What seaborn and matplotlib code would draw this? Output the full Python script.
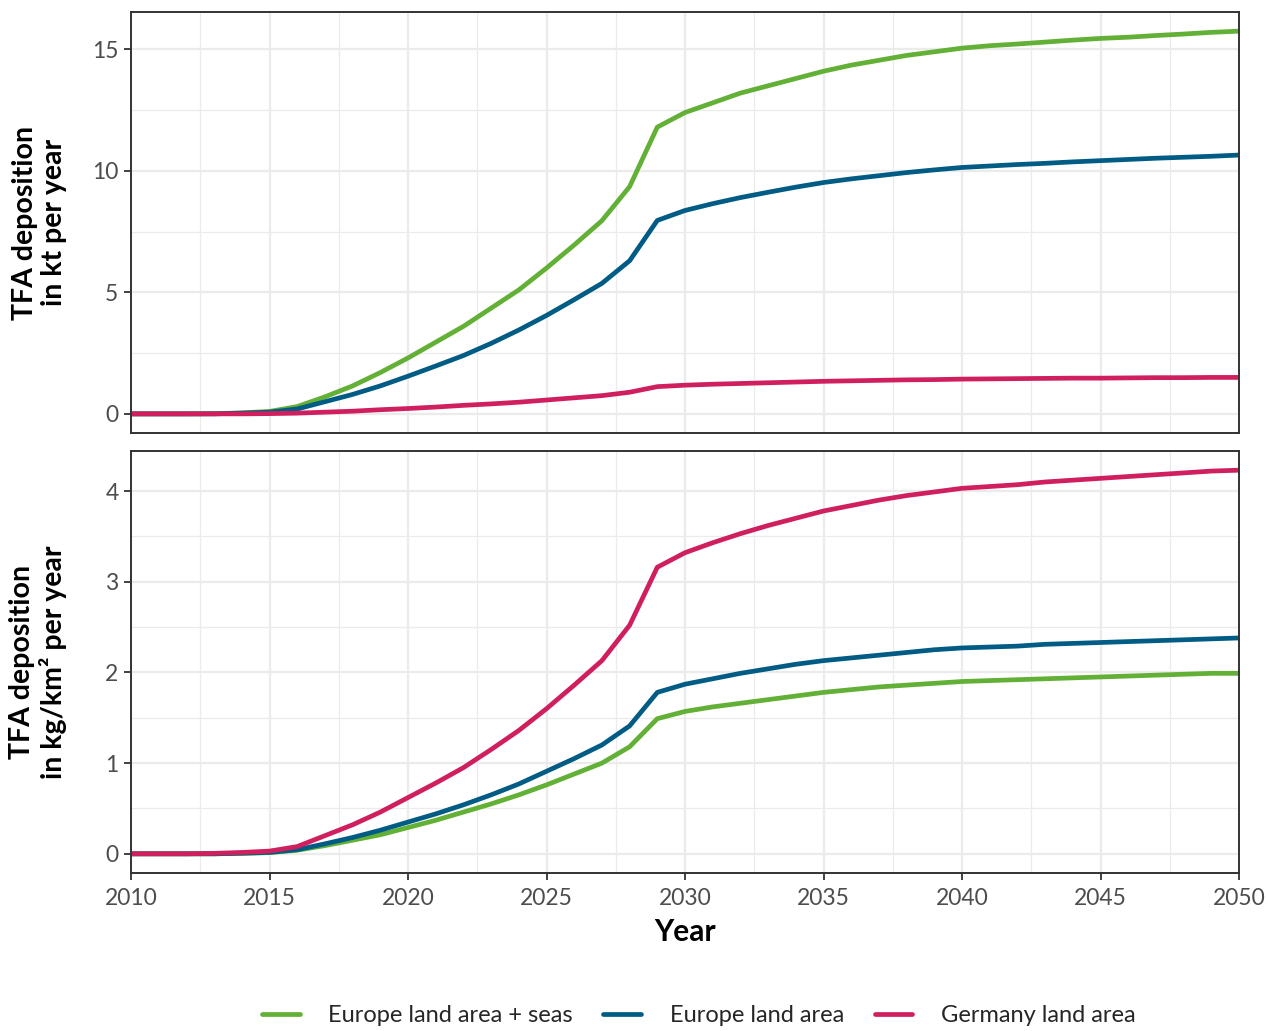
import numpy as np
import pandas as pd
import matplotlib
matplotlib.use("Agg")
import matplotlib.pyplot as plt
import seaborn as sns
from matplotlib.ticker import MultipleLocator

years = list(range(2010, 2051))
series_names = ["Europe land area + seas", "Europe land area", "Germany land area"]
colors = ["#62b035", "#005c84", "#d01f5e"]

kt_green = [0, 0, 0, 0.01, 0.04, 0.1, 0.3, 0.7, 1.15, 1.7, 2.3, 2.95, 3.6, 4.35, 5.1, 6.0, 6.95, 7.95, 9.35, 11.8,
            12.4, 12.8, 13.2, 13.5, 13.8, 14.1, 14.35, 14.55, 14.75, 14.9, 15.05, 15.15, 15.22, 15.3, 15.38, 15.45,
            15.5, 15.57, 15.63, 15.7, 15.75]
kt_blue = [0, 0, 0, 0, 0.03, 0.07, 0.2, 0.5, 0.8, 1.15, 1.55, 1.97, 2.4, 2.9, 3.45, 4.05, 4.7, 5.37, 6.3, 7.96,
           8.37, 8.65, 8.9, 9.12, 9.33, 9.52, 9.67, 9.8, 9.93, 10.04, 10.14, 10.2, 10.26, 10.31, 10.37, 10.42,
           10.47, 10.52, 10.56, 10.6, 10.65]
kt_pink = [0, 0, 0, 0, 0, 0.01, 0.03, 0.07, 0.11, 0.17, 0.22, 0.28, 0.35, 0.41, 0.48, 0.57, 0.66, 0.75, 0.89, 1.12,
           1.18, 1.22, 1.25, 1.28, 1.31, 1.34, 1.36, 1.38, 1.4, 1.41, 1.43, 1.44, 1.45, 1.46, 1.47, 1.47,
           1.48, 1.49, 1.49, 1.5, 1.5]

kg_green = [0, 0, 0, 0, 0.005, 0.013, 0.04, 0.09, 0.15, 0.21, 0.29, 0.37, 0.46, 0.55, 0.65, 0.76, 0.88, 1.0, 1.18, 1.49,
            1.57, 1.62, 1.66, 1.7, 1.74, 1.78, 1.81, 1.84, 1.86, 1.88, 1.9, 1.91, 1.92, 1.93, 1.94, 1.95,
            1.96, 1.97, 1.98, 1.99, 1.99]
kg_blue = [0, 0, 0, 0, 0.007, 0.016, 0.045, 0.11, 0.18, 0.26, 0.35, 0.44, 0.54, 0.65, 0.77, 0.91, 1.05, 1.2, 1.41, 1.78,
           1.87, 1.93, 1.99, 2.04, 2.09, 2.13, 2.16, 2.19, 2.22, 2.25, 2.27, 2.28, 2.29, 2.31, 2.32, 2.33,
           2.34, 2.35, 2.36, 2.37, 2.38]
kg_pink = [0, 0, 0, 0.005, 0.015, 0.03, 0.08, 0.2, 0.32, 0.46, 0.62, 0.78, 0.95, 1.15, 1.36, 1.6, 1.86, 2.13, 2.52, 3.16,
           3.32, 3.43, 3.53, 3.62, 3.7, 3.78, 3.84, 3.9, 3.95, 3.99, 4.03, 4.05, 4.07, 4.1, 4.12, 4.14,
           4.16, 4.18, 4.2, 4.22, 4.23]

ylabel_top = "TFA deposition\nin kt per year"
ylabel_bottom = "TFA deposition\nin kg/km² per year"
xlabel = "Year"


def long_df(vals):
    rows = []
    for name, v in zip(series_names, vals):
        for y, val in zip(years, v):
            rows.append({"Year": y, "value": val, "series": name})
    return pd.DataFrame(rows)


df_top = long_df([kt_green, kt_blue, kt_pink])
df_bot = long_df([kg_green, kg_blue, kg_pink])

sns.set_theme(style="white")
plt.rcParams["font.family"] = ["Lato", "DejaVu Sans"]

fig = plt.figure(figsize=(12.68, 10.31), dpi=100)
left = 131 / 1268
width = 1108 / 1268
ax1 = fig.add_axes([left, 1 - 433 / 1031, width, 421 / 1031])
ax2 = fig.add_axes([left, 1 - 873 / 1031, width, 422 / 1031])

palette = dict(zip(series_names, colors))

for ax, df, ymax, major, minor, lab in [
    (ax1, df_top, 15.75, 5, 2.5, ylabel_top),
    (ax2, df_bot, 4.23, 1, 0.5, ylabel_bottom),
]:
    sns.lineplot(data=df, x="Year", y="value", hue="series", hue_order=series_names,
                 palette=palette, linewidth=3.4, ax=ax, legend=(ax is ax2))
    ax.set_xlim(2010, 2050)
    ax.set_ylim(-0.05 * ymax, ymax * 1.05)
    ax.xaxis.set_major_locator(MultipleLocator(5))
    ax.xaxis.set_minor_locator(MultipleLocator(2.5))
    ax.yaxis.set_major_locator(MultipleLocator(major))
    ax.yaxis.set_minor_locator(MultipleLocator(minor))
    ax.grid(which="major", color="#ebebeb", linewidth=1.6)
    ax.grid(which="minor", color="#ebebeb", linewidth=0.9)
    ax.set_axisbelow(True)
    for s in ax.spines.values():
        s.set_color("#333333")
        s.set_linewidth(1.4)
    ax.tick_params(axis="y", which="major", left=True, length=5, width=1.3, color="#333333",
                   labelsize=16.5, labelcolor="#4d4d4d", pad=4)
    ax.tick_params(which="minor", length=0)
    ax.set_ylabel(lab, fontsize=20.5, fontweight="bold", color="black", linespacing=1.15)
    ax.yaxis.set_label_coords(-0.058, 0.5)

ax1.set_xlabel("")
ax1.tick_params(axis="x", which="major", bottom=False, labelbottom=False)
ax2.tick_params(axis="x", which="major", bottom=True, length=5, width=1.3, color="#333333",
                labelsize=16.5, labelcolor="#4d4d4d", pad=6)
ax2.set_xlabel(xlabel, fontsize=21.5, fontweight="bold", color="black", labelpad=6)

handles, labels = ax2.get_legend_handles_labels()
ax2.get_legend().remove()
fig.legend(handles, labels, loc="upper center", bbox_to_anchor=(0.551, 0.025), ncol=3,
           frameon=False, fontsize=17, handlelength=1.6, handletextpad=1.2, columnspacing=1.3,
           borderaxespad=0.0, borderpad=0.0)

fig.savefig("out.png", dpi=100)
